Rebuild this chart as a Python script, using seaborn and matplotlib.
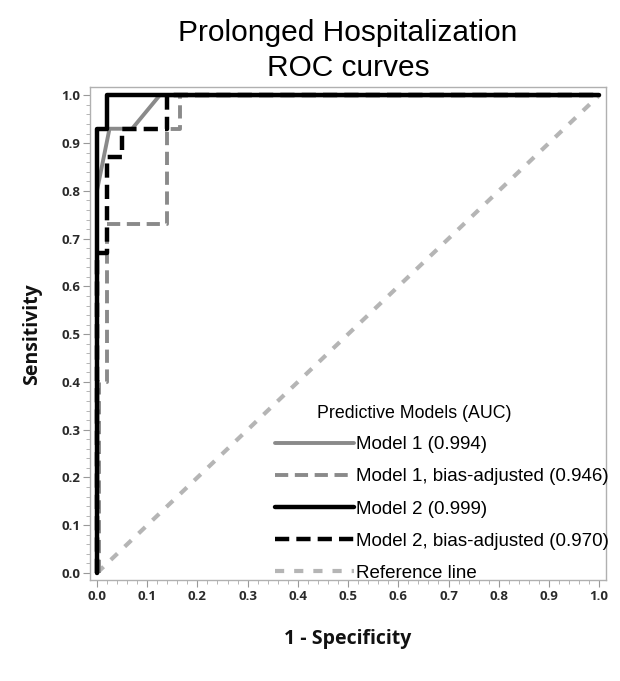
import numpy as np
import pandas as pd
import matplotlib
matplotlib.use("Agg")
import matplotlib.pyplot as plt
from matplotlib.ticker import MultipleLocator
import seaborn as sns

# ---- data ----
m1_fpr = [0.0, 0.0, 0.025, 0.07, 0.125, 1.0]
m1_tpr = [0.0, 0.80, 0.93, 0.93, 1.0, 1.0]

m1b_fpr = [0.005, 0.005, 0.02, 0.02, 0.14, 0.14, 0.165, 0.165, 1.0]
m1b_tpr = [0.0, 0.40, 0.40, 0.73, 0.73, 0.93, 0.93, 1.0, 1.0]

m2_fpr = [0.0, 0.0, 0.02, 0.02, 1.0]
m2_tpr = [0.0, 0.93, 0.93, 1.0, 1.0]

m2b_fpr = [0.0, 0.0, 0.02, 0.02, 0.05, 0.05, 0.14, 0.14, 1.0]
m2b_tpr = [0.0, 0.67, 0.67, 0.87, 0.87, 0.93, 0.93, 1.0, 1.0]

ref_fpr = [0.0, 1.0]
ref_tpr = [0.0, 1.0]

labels = ["Model 1 (0.994)", "Model 1, bias-adjusted (0.946)",
          "Model 2 (0.999)", "Model 2, bias-adjusted (0.970)", "Reference line"]
legend_title = "Predictive Models (AUC)"
x_ticks = [0.0, 0.1, 0.2, 0.3, 0.4, 0.5, 0.6, 0.7, 0.8, 0.9, 1.0]
y_ticks = [0.0, 0.1, 0.2, 0.3, 0.4, 0.5, 0.6, 0.7, 0.8, 0.9, 1.0]

sns.set_theme(style="white")
plt.rcParams["font.family"] = ["Liberation Sans", "DejaVu Sans"]

fig = plt.figure(figsize=(6.2, 6.81), dpi=100)
ax = fig.add_axes([0.145, 0.148, 0.832, 0.724])

series = [
    (m1_fpr, m1_tpr, "#8a8a8a", None, 2.8),
    (m1b_fpr, m1b_tpr, "#8a8a8a", (3.4, 1.7), 2.8),
    (m2_fpr, m2_tpr, "#000000", None, 3.2),
    (m2b_fpr, m2b_tpr, "#000000", (3.2, 1.6), 3.2),
    (ref_fpr, ref_tpr, "#b5b5b5", (2.2, 2.4), 3.0),
]
order = [4, 0, 1, 2, 3]
handles = {}
for i in order:
    fx, fy, col, dash, lw = series[i]
    df = pd.DataFrame({"fpr": fx, "tpr": fy})
    sns.lineplot(data=df, x="fpr", y="tpr", ax=ax, sort=False, estimator=None,
                 color=col, linewidth=lw, label=labels[i])
    line = ax.get_lines()[-1]
    if dash is not None:
        line.set_dashes(dash)
    handles[i] = line

ax.set_xlim(-0.014, 1.013)
ax.set_ylim(-0.015, 1.017)
ax.set_xticks(x_ticks)
ax.set_yticks(y_ticks)
ax.xaxis.set_minor_locator(MultipleLocator(0.02))
ax.yaxis.set_minor_locator(MultipleLocator(0.02))
ax.tick_params(axis="both", which="major", direction="out", length=5, width=0.8,
               color="#999999", labelsize=9.5, labelcolor="#2a2a2a", pad=2,
               bottom=True, left=True)
ax.tick_params(axis="both", which="minor", direction="out", length=3, width=0.6,
               color="#aaaaaa", bottom=True, left=True)
ax.set_xticklabels([f"{v:.1f}" for v in x_ticks], fontweight="bold",
                   family=["Open Sans", "DejaVu Sans"])
ax.set_yticklabels([f"{v:.1f}" for v in y_ticks], fontweight="bold",
                   family=["Open Sans", "DejaVu Sans"])
for s in ax.spines.values():
    s.set_color("#b0b0b0")
    s.set_linewidth(1.0)

ax.set_xlabel("1 - Specificity", fontsize=14, fontweight="bold",
              family=["Open Sans", "DejaVu Sans"], labelpad=19, color="#111111")
ax.set_ylabel("Sensitivity", fontsize=14, fontweight="bold",
              family=["Open Sans", "DejaVu Sans"], labelpad=14, color="#111111")

ax.set_title("Prolonged Hospitalization\nROC curves", fontsize=21.5,
             color="black", linespacing=1.3, pad=8)

leg = ax.legend([handles[i] for i in [0, 1, 2, 3, 4]], labels,
                loc="lower right", bbox_to_anchor=(1.028, -0.026),
                frameon=False, fontsize=13.5, handlelength=4.2,
                handletextpad=0.1, labelspacing=0.8, borderaxespad=0.2)
for t in leg.get_texts():
    t.set_color("black")

ax.text(0.628, 0.339, legend_title, transform=ax.transAxes, fontsize=12.8,
        ha="center", va="center", color="black")

fig.savefig("out.png", dpi=100)
